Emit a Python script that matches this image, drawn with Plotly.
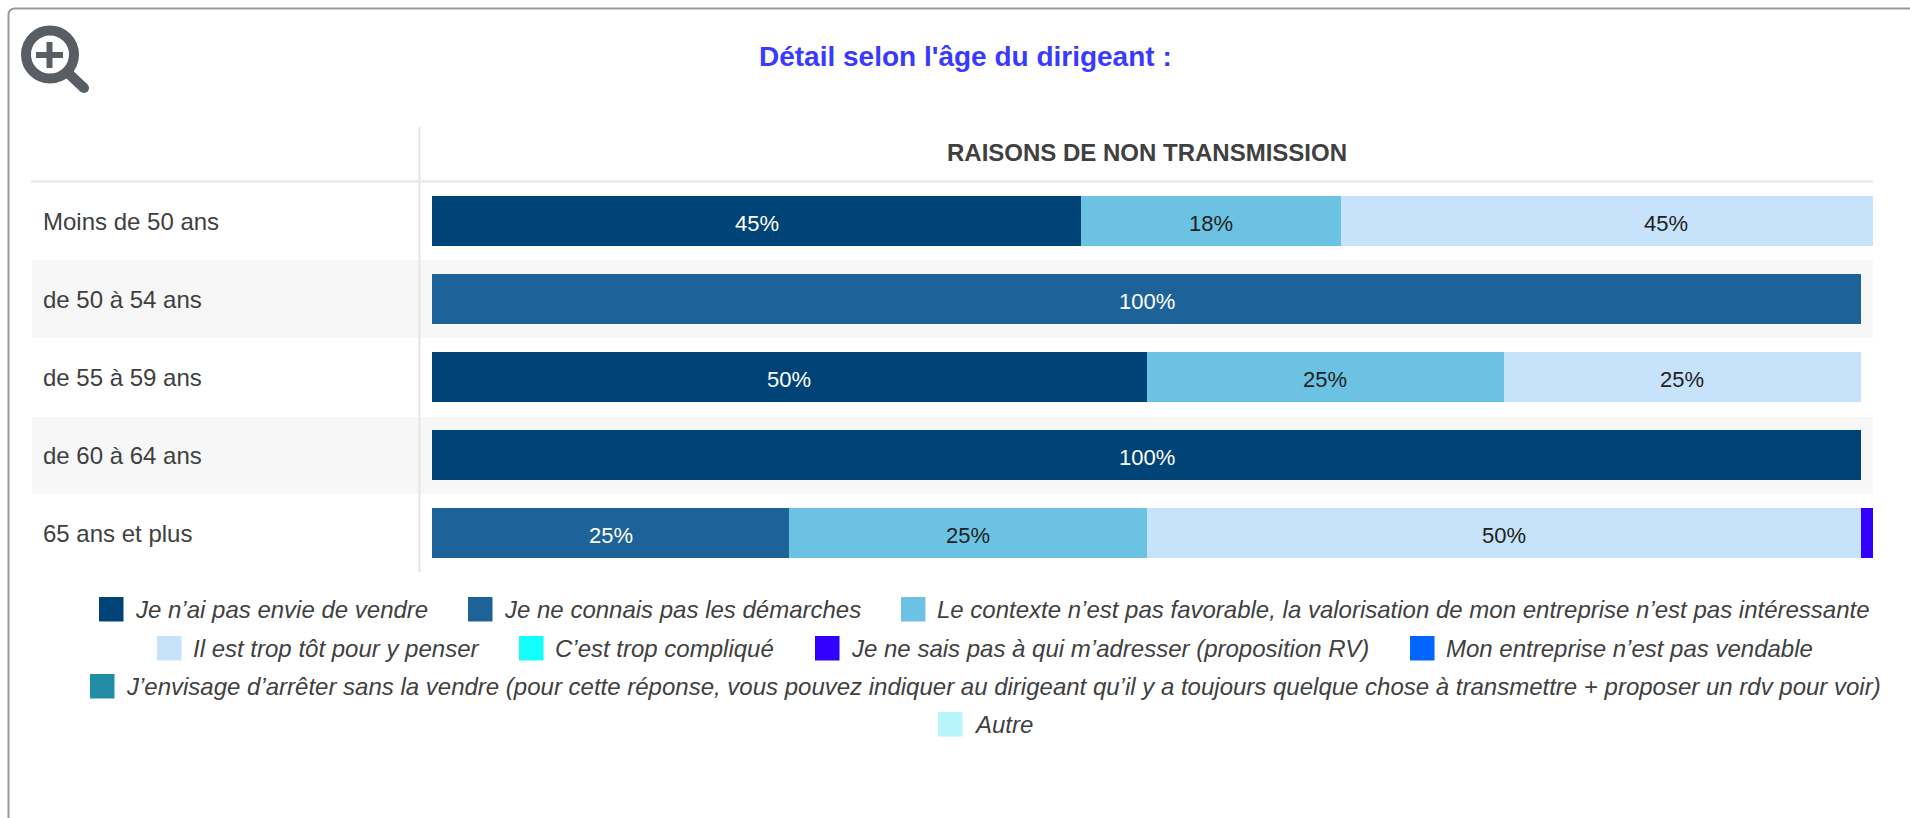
import plotly.graph_objects as go

categories = ["Moins de 50 ans", "de 50 à 54 ans", "de 55 à 59 ans", "de 60 à 64 ans", "65 ans et plus"]
series_names = [
    "Je n’ai pas envie de vendre",
    "Je ne connais pas les démarches",
    "Le contexte n’est pas favorable, la valorisation de mon entreprise n’est pas intéressante",
    "Il est trop tôt pour y penser",
    "C’est trop compliqué",
    "Je ne sais pas à qui m’adresser (proposition RV)",
    "Mon entreprise n’est pas vendable",
    "J’envisage d’arrêter sans la vendre (pour cette réponse, vous pouvez indiquer au dirigeant qu’il y a toujours quelque chose à transmettre + proposer un rdv pour voir)",
    "Autre",
]
pas_envie = [45.45, None, 50, 100, None]
demarches = [None, 100, None, None, 25]
contexte = [18.18, None, 25, None, 25]
trop_tot = [45.45, None, 25, None, 50]
complique = [None, None, None, None, None]
a_qui = [None, None, None, None, 25]
pas_vendable = [None, None, None, None, None]
arreter = [None, None, None, None, None]
autre = [None, None, None, None, None]
series_values = [pas_envie, demarches, contexte, trop_tot, complique, a_qui, pas_vendable, arreter, autre]
colors = ["#004477", "#1d6399", "#6bc2e3", "#c7e3fb", "#12fffb", "#3300ff", "#0066ff", "#238da5", "#b8f5fb"]
label_colors = ["#ffffff", "#ffffff", "#222222", "#222222", "#222222", "#ffffff", "#ffffff", "#ffffff", "#222222"]
title_main = "Détail selon l'âge du dirigeant :"
title_column = "RAISONS DE NON TRANSMISSION"
axis_max = 100.84

W, H = 1910, 818
L, R, T, B = 432, 1873, 182, 572
FONT = "Liberation Sans, Arial, sans-serif"


def px(x):
    return (x - L) / (R - L)


def py(y):
    return (B - y) / (B - T)


fig = go.Figure()
shapes = []
annotations = []
stack_tops = [0.0] * len(categories)
for i, (name, vals) in enumerate(zip(series_names, series_values)):
    fig.add_trace(go.Bar(
        y=categories, x=vals, name=name, orientation="h",
        marker=dict(color=colors[i], line=dict(width=0)),
        cliponaxis=True, showlegend=False, hoverinfo="skip",
    ))
    # value labels sit at the centre of each full segment; the clipped blue one has no visible label
    for j, v in enumerate(vals):
        if v is None:
            continue
        if name != series_names[5]:
            annotations.append(dict(xref="x", yref="y", x=stack_tops[j] + v / 2, y=categories[j],
                                    text=f"{v:.0f}%", showarrow=False, yshift=-2.5,
                                    font=dict(family=FONT, size=22, color=label_colors[i])))
        stack_tops[j] += v


def rect(x0, y0, x1, y1, color, layer="below"):
    shapes.append(dict(type="rect", xref="paper", yref="paper", x0=px(x0), x1=px(x1), y0=py(y0), y1=py(y1),
                       fillcolor=color, line=dict(width=0), layer=layer))


def line(x0, y0, x1, y1, color, width):
    shapes.append(dict(type="line", xref="paper", yref="paper", x0=px(x0), x1=px(x1), y0=py(y0), y1=py(y1),
                       line=dict(color=color, width=width), layer="below"))


def text(x, y, s, size, color, anchor="left", bold=False, italic=False):
    annotations.append(dict(xref="paper", yref="paper", x=px(x), y=py(y), text=f"<b>{s}</b>" if bold else s,
                            showarrow=False, xanchor=anchor, yanchor="middle",
                            font=dict(family=FONT, size=size, color=color, style="italic" if italic else "normal")))


# bands and rules
rect(32, 260, 1873, 338, "#f7f7f7")
rect(32, 417, 1873, 494, "#f7f7f7")
line(31, 181.5, 1873, 181.5, "#e6e6e6", 2)
line(419.5, 127, 419.5, 572, "#e6e6e6", 2)

# card outline
shapes.append(dict(type="path", xref="paper", yref="paper",
                   path=f"M {px(8.5)} {py(818)} L {px(8.5)} {py(15)} Q {px(8.5)} {py(8.5)} {px(15)} {py(8.5)} L {px(1910)} {py(8.5)}",
                   line=dict(color="#999999", width=2), layer="below"))

# magnifier icon
ICON = "#585e63"
shapes.append(dict(type="circle", xref="paper", yref="paper", x0=px(26), x1=px(74), y0=py(30.5), y1=py(78.5),
                   line=dict(color=ICON, width=10), fillcolor="rgba(0,0,0,0)", layer="below"))
line(36, 55, 63, 55, ICON, 6)
line(49.5, 42, 49.5, 68, ICON, 6)
line(68, 73, 84, 88, ICON, 10)
shapes.append(dict(type="circle", xref="paper", yref="paper", x0=px(79), x1=px(89), y0=py(83), y1=py(93),
                   fillcolor=ICON, line=dict(width=0), layer="below"))

# titles
text(965, 56, title_main, 28, "#3a3aff", "center", bold=True)
text(1147, 152, title_column, 24, "#404040", "center", bold=True)

# row labels
for cat, yc in zip(categories, [221, 299, 377, 455, 533]):
    text(41, yc, cat, 24, "#404040")

# legend
legend_pos = [(99, 597), (468, 597), (901, 597), (157, 636), (519, 636), (815, 636), (1410, 636), (90, 674), (938, 712)]
for (x, y), name, color in zip(legend_pos, series_names, colors):
    rect(x, y, x + 24.5, y + 24.5, color)
    text(x + 33.5, y + 12.5, name, 24, "#404040", italic=True)

fig.update_layout(
    barmode="stack", bargap=0.36, width=W, height=H, autosize=False,
    margin=dict(l=L, r=W - R, t=T, b=H - B, pad=0),
    paper_bgcolor="#ffffff", plot_bgcolor="rgba(0,0,0,0)",
    xaxis=dict(range=[0, axis_max], visible=False, fixedrange=True),
    yaxis=dict(categoryorder="array", categoryarray=categories, autorange="reversed", showticklabels=False,
               showgrid=False, zeroline=False, showline=False, ticks="", fixedrange=True),
    shapes=shapes, annotations=annotations, showlegend=False,
)
fig.write_html("out.html", config={"displayModeBar": False},
               post_script="document.body.style.margin='0';document.body.style.overflow='hidden';")
